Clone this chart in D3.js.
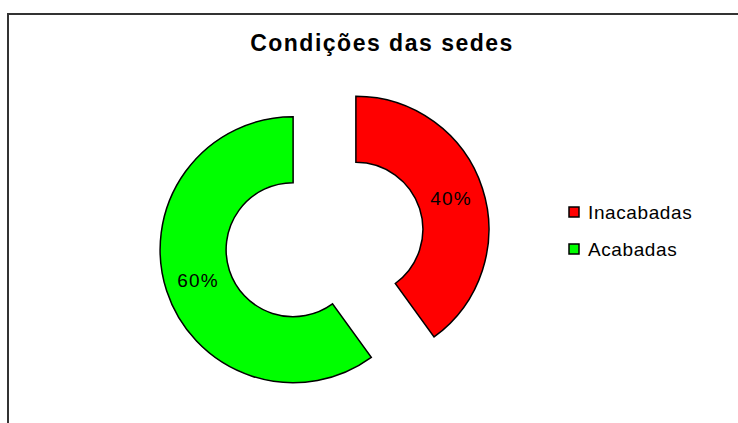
<!DOCTYPE html>
<html lang="en">
<head>
  <meta charset="UTF-8">
  <title>Condições das sedes</title>
  <script src="https://d3js.org/d3.v7.min.js"></script>
  <style>
    body { margin: 0; background: #fff; }
    text { font-family: Arial, "Liberation Sans", sans-serif; }
  </style>
</head>
<body>
  <svg width="738" height="423"></svg>
  <script>
    const categories = ["Inacabadas", "Acabadas"];
    const values = [40, 60];
    const colors = ["#ff0000", "#00ff00"];

    const width = 738, height = 423;
    const svg = d3.select("svg");

    // chart frame (cut off on the right and bottom)
    svg.append("rect")
      .attr("x", 8).attr("y", 14)
      .attr("width", 760).attr("height", 440)
      .attr("fill", "none")
      .attr("stroke", "#333")
      .attr("stroke-width", 2);

    svg.append("text")
      .attr("x", 382).attr("y", 51)
      .attr("text-anchor", "middle")
      .attr("font-size", 23)
      .attr("font-weight", "bold")
      .attr("letter-spacing", 1.5)
      .text("Condições das sedes");

    const cx = 324.5, cy = 239.5;
    const outerR = 133, innerR = 67, explode = 33;

    const pie = d3.pie().sort(null).value(d => d);
    const arcs = pie(values);

    const arc = d3.arc().innerRadius(innerR).outerRadius(outerR);
    const labelArc = d3.arc().innerRadius(100).outerRadius(100);

    const slice = svg.append("g")
      .attr("transform", `translate(${cx},${cy})`)
      .selectAll("g")
      .data(arcs)
      .join("g")
      .attr("transform", d => {
        const a = (d.startAngle + d.endAngle) / 2;
        return `translate(${explode * Math.sin(a)},${-explode * Math.cos(a)})`;
      });

    slice.append("path")
      .attr("d", arc)
      .attr("fill", (d, i) => colors[i])
      .attr("stroke", "#000")
      .attr("stroke-width", 1.5);

    slice.append("text")
      .attr("transform", d => `translate(${labelArc.centroid(d)})`)
      .attr("text-anchor", "middle")
      .attr("dy", "0.35em")
      .attr("font-size", 19)
      .attr("letter-spacing", 1.2)
      .text(d => d.value + "%");

    const legend = svg.append("g")
      .selectAll("g")
      .data(categories)
      .join("g")
      .attr("transform", (d, i) => `translate(569,${207 + i * 37})`);

    legend.append("rect")
      .attr("width", 10).attr("height", 10)
      .attr("fill", (d, i) => colors[i])
      .attr("stroke", "#000")
      .attr("stroke-width", 1.5);

    legend.append("text")
      .attr("x", 19).attr("y", 12)
      .attr("font-size", 19)
      .attr("letter-spacing", 0.6)
      .text(d => d);
  </script>
</body>
</html>
